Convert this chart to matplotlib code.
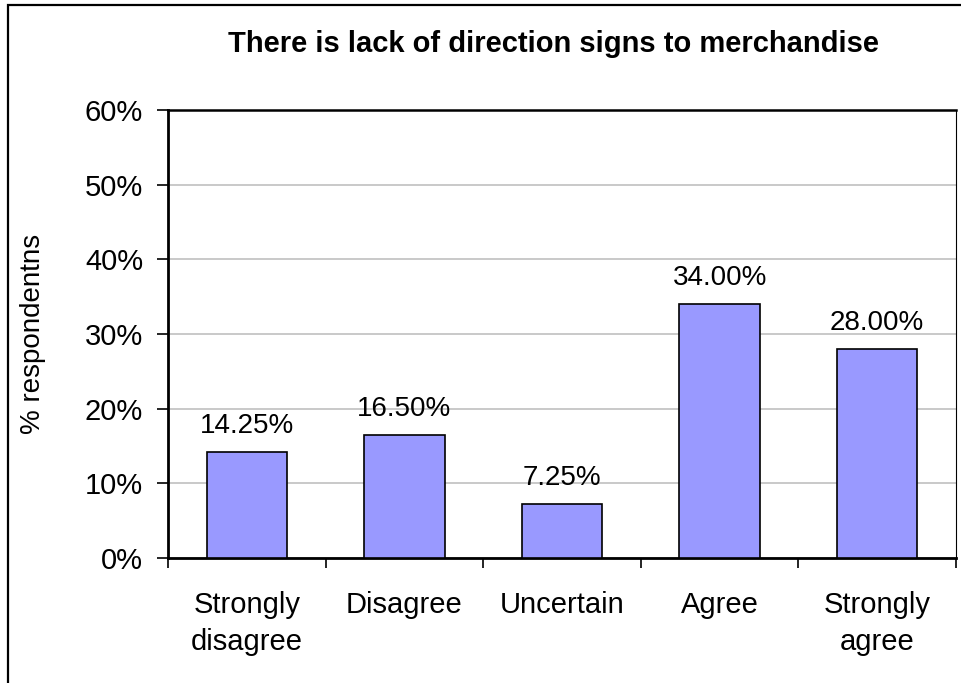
import matplotlib.pyplot as plt
from matplotlib.patches import Rectangle
from matplotlib.ticker import FuncFormatter

plt.rcParams['font.family'] = ['Liberation Sans', 'DejaVu Sans']

categories = ['Strongly\ndisagree', 'Disagree', 'Uncertain', 'Agree', 'Strongly\nagree']
values = [14.25, 16.50, 7.25, 34.00, 28.00]
yticks = [0, 10, 20, 30, 40, 50, 60]

W, H = 961, 683
fig = plt.figure(figsize=(W / 100, H / 100), dpi=100)
ax = fig.add_axes([168 / W, 1 - 558 / H, 788 / W, 448 / H])

x = range(len(categories))
ax.bar(x, values, width=0.51, color='#9999FF', edgecolor='black', linewidth=1.2, zorder=3)
for xi, v in zip(x, values):
    ax.text(xi, v + 1.7, '%.2f%%' % v, ha='center', va='bottom', fontsize=20)

ax.set_xlim(-0.5, len(categories) - 0.5)
ax.set_ylim(0, 60)
ax.set_yticks(yticks)
ax.yaxis.set_major_formatter(FuncFormatter(lambda v, p: '%d%%' % v))
ax.tick_params(axis='y', labelsize=21, length=8, width=1.2, direction='out', pad=10)
ax.grid(axis='y', color='#c0c0c0', linewidth=1.2, zorder=0)

# category labels centred, ticks between categories
ax.set_xticks(list(x))
ax.set_xticklabels(categories, fontsize=21, linespacing=1.4)
ax.tick_params(axis='x', length=0, pad=24)
ax.set_xticks([i - 0.5 for i in range(len(categories) + 1)], minor=True)
ax.tick_params(axis='x', which='minor', length=7, width=1.2, direction='out')

for side in ['left', 'bottom']:
    ax.spines[side].set_linewidth(2)
ax.spines['right'].set_linewidth(0.8)
ax.spines['top'].set_linewidth(1.8)

fig.text(33 / W, 1 - 334 / H, '% respondentns', rotation=90,
         ha='center', va='center', fontsize=20)
fig.text(553 / W, 1 - 44 / H, 'There is lack of direction signs to merchandise',
         ha='center', va='center', fontsize=21, fontweight='bold')

# chart frame (right and bottom edges run off the image)
fig.patches.append(Rectangle((8 / W, -0.05), 1.1, 1.05 - 5 / H, transform=fig.transFigure,
                             fill=False, edgecolor='black', linewidth=1.6))

fig.savefig('out.png', dpi=100)
